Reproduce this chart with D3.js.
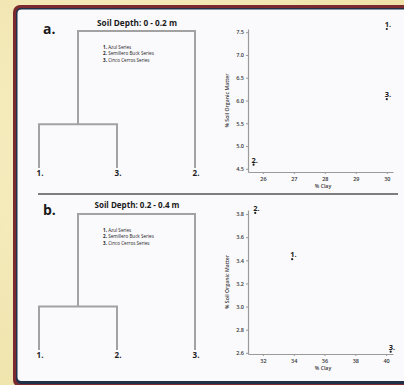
<!DOCTYPE html>
<html>
<head>
<meta charset="utf-8">
<script src="https://cdn.jsdelivr.net/npm/d3@7"></script>
<style>
  html, body { margin: 0; padding: 0; background: #f3eab8; }
  svg { display: block; font-family: "Open Sans", "DejaVu Sans", sans-serif; }
</style>
</head>
<body>
<svg id="chart" width="404" height="385"></svg>
<script>
// legend / series names
const seriesNames = ["Azul Series", "Semillero Buck Series", "Cinco Cerros Series"];
const pointLabels = ["1.", "2.", "3."];

// panel a: 0 - 0.2 m
const clayA = [30.0, 25.7, 30.0];
const somA = [7.57, 4.59, 6.03];
const clayTicksA = [26, 27, 28, 29, 30];
const somTicksA = [4.5, 5.0, 5.5, 6.0, 6.5, 7.0, 7.5];
const leavesA = ["1.", "3.", "2."];
const mergeA = [0.32, 1.0]; // first join (1,3), then with 2

// panel b: 0.2 - 0.4 m
const clayB = [33.9, 31.5, 40.3];
const somB = [3.41, 3.81, 2.61];
const clayTicksB = [32, 34, 36, 38, 40];
const somTicksB = [2.6, 2.8, 3.0, 3.2, 3.4, 3.6, 3.8];
const leavesB = ["1.", "2.", "3."];
const mergeB = [0.32, 1.0];

const svg = d3.select('#chart');

// parchment background
const defs = svg.append('defs');
const bg = defs.append('radialGradient').attr('id', 'bg').attr('cx', '30%').attr('cy', '40%').attr('r', '80%');
bg.append('stop').attr('offset', '0%').attr('stop-color', '#f7efc6');
bg.append('stop').attr('offset', '100%').attr('stop-color', '#efe2a8');
svg.append('rect').attr('width', 404).attr('height', 385).attr('fill', 'url(#bg)');

// card with red / navy border
svg.append('rect').attr('x', 13).attr('y', 5).attr('width', 430).attr('height', 382).attr('rx', 7).attr('fill', '#7b2b30');
svg.append('rect').attr('x', 16).attr('y', 8).attr('width', 430).attr('height', 376).attr('rx', 5).attr('fill', '#1f3149');
svg.append('rect').attr('x', 17.5).attr('y', 9.5).attr('width', 430).attr('height', 371.5).attr('rx', 4).attr('fill', '#fafafd');

// separator
svg.append('line').attr('x1', 38).attr('x2', 398).attr('y1', 194).attr('y2', 194)
  .attr('stroke', '#7d7d7d').attr('stroke-width', 2);

function drawPanel(p) {
  const g = svg.append('g');

  // letter + title
  g.append('text').attr('x', 43).attr('y', p.letterY).text(p.letter)
    .attr('font-size', 14).attr('font-weight', 700).attr('fill', '#1a1a1a');
  g.append('text').attr('x', 137).attr('y', p.titleY).attr('text-anchor', 'middle')
    .attr('font-size', 9.5).attr('font-weight', 700).attr('fill', '#1a1a1a')
    .attr('textLength', p.titleLen).attr('lengthAdjust', 'spacingAndGlyphs')
    .text(p.title);

  // legend
  const leg = g.append('g').attr('font-size', 4.6).attr('fill', '#222');
  seriesNames.forEach((name, i) => {
    const t = leg.append('text').attr('x', 103).attr('y', p.legendY + i * 6.4);
    t.append('tspan').attr('font-weight', 700).text((i + 1) + '. ');
    t.append('tspan').text(name);
  });

  // dendrogram
  const tree = { h: p.merge[1], children: [
    { h: p.merge[0], children: [{ name: p.leaves[0] }, { name: p.leaves[1] }] },
    { name: p.leaves[2] }
  ] };
  const root = d3.hierarchy(tree);
  const xLeaf = d3.scalePoint().domain(p.leaves).range([39, 195]);
  const yH = d3.scaleLinear().domain([0, 1]).range([p.leafY, p.topY]);
  root.eachAfter(n => {
    n.px = n.children ? d3.mean(n.children, c => c.px) : xLeaf(n.data.name);
    n.py = yH(n.data.h || 0);
  });
  const dg = g.append('g').attr('stroke', '#a2a2a2').attr('stroke-width', 2).attr('fill', 'none');
  root.descendants().filter(n => n.children).forEach(n => {
    const xs = n.children.map(c => c.px);
    dg.append('line').attr('x1', d3.min(xs) - 1).attr('x2', d3.max(xs) + 1).attr('y1', n.py).attr('y2', n.py);
    n.children.forEach(c => {
      dg.append('line').attr('x1', c.px).attr('x2', c.px).attr('y1', n.py).attr('y2', c.py);
    });
  });
  g.selectAll('.leaf').data(root.leaves()).join('text')
    .attr('x', d => d.px + 1).attr('y', p.leafY + 8).attr('text-anchor', 'middle')
    .attr('font-size', 8).attr('font-weight', 700).attr('fill', '#1a1a1a')
    .text(d => d.data.name);

  // scatter
  const x = d3.scaleLinear().domain(p.xDomain).range([248, 393]);
  const y = d3.scaleLinear().domain(p.yDomain).range(p.yRange);
  const axisStyle = sel => {
    sel.attr('font-size', 5.5).attr('font-family', null);
    sel.select('.domain').attr('stroke', '#9a9a9a').attr('stroke-width', 1.2);
    sel.selectAll('.tick line').attr('stroke', '#9a9a9a');
    sel.selectAll('.tick text').attr('fill', '#333').attr('font-weight', 600);
  };
  g.append('g').attr('transform', `translate(0,${p.yRange[0]})`)
    .call(d3.axisBottom(x).tickValues(p.xTicks).tickSize(2).tickSizeOuter(0).tickPadding(3).tickFormat(d3.format('d')))
    .call(axisStyle);
  g.append('g').attr('transform', 'translate(248,0)')
    .call(d3.axisLeft(y).tickValues(p.yTicks).tickSize(2).tickSizeOuter(0).tickPadding(2).tickFormat(d3.format('.1f')))
    .call(axisStyle);

  g.append('text').attr('x', 323).attr('y', p.yRange[0] + 16).attr('text-anchor', 'middle')
    .attr('font-size', 5.2).attr('font-weight', 600).attr('fill', '#333').text('% Clay');
  const yMid = (p.yRange[0] + p.yRange[1]) / 2;
  g.append('text').attr('transform', `translate(229,${yMid}) rotate(-90)`).attr('text-anchor', 'middle')
    .attr('font-size', 5.2).attr('font-weight', 600).attr('fill', '#333').text('% Soil Organic Matter');

  const pts = p.clay.map((c, i) => ({ c, s: p.som[i], label: pointLabels[i] }));
  g.selectAll('.pt').data(pts).join('circle')
    .attr('cx', d => x(d.c)).attr('cy', d => y(d.s)).attr('r', 1.1).attr('fill', '#222');
  g.selectAll('.ptl').data(pts).join('text')
    .attr('x', d => x(d.c) - 2).attr('y', d => y(d.s) - 2)
    .attr('font-size', 7.5).attr('font-weight', 700).attr('fill', '#1a1a1a')
    .text(d => d.label);
}

drawPanel({
  letter: 'a.', letterY: 34, title: 'Soil Depth: 0 - 0.2 m', titleY: 26, titleLen: 80,
  legendY: 49, leaves: leavesA, merge: mergeA, leafY: 168, topY: 31,
  clay: clayA, som: somA, xTicks: clayTicksA, yTicks: somTicksA,
  xDomain: [25.52, 30.2], yDomain: [4.43, 7.57], yRange: [172, 29]
});
drawPanel({
  letter: 'b.', letterY: 215, title: 'Soil Depth: 0.2 - 0.4 m', titleY: 208, titleLen: 85,
  legendY: 232, leaves: leavesB, merge: mergeB, leafY: 350, topY: 214,
  clay: clayB, som: somB, xTicks: clayTicksB, yTicks: somTicksB,
  xDomain: [31.03, 40.45], yDomain: [2.59, 3.835], yRange: [354, 210]
});
</script>
</body>
</html>
